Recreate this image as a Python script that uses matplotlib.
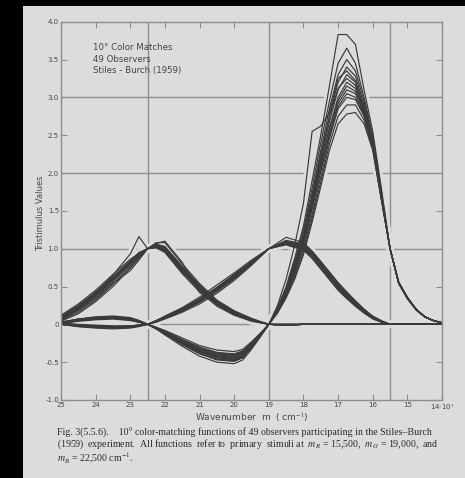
import matplotlib

matplotlib.use("Agg")

import matplotlib.pyplot as plt
from matplotlib.patches import Rectangle

WAVENUMBER_R = [25, 24.5, 24, 23.5, 23, 22.75, 22.5, 22.25, 22, 21.5, 21, 20.5, 20, 19.75, 19.5,
                19.25, 19, 18.75, 18.5, 18.25, 18, 17.75, 17.5, 17.25, 17, 16.75, 16.5, 16.25,
                16, 15.75, 15.5, 15.25, 15, 14.75, 14.5, 14.25, 14]
WAVENUMBER_G = [25, 24.5, 24, 23.5, 23, 22.75, 22.5, 22.25, 22, 21.5, 21, 20.5, 20, 19.5, 19,
                18.5, 18, 17.75, 17.5, 17.25, 17, 16.75, 16.5, 16.25, 16, 15.75, 15.5, 15, 14.5, 14]
# blue function is flat zero beyond 18, so it is sampled on a shorter grid
WAVENUMBER_B = [25, 24.5, 24, 23.5, 23, 22.75, 22.5, 22.25, 22, 21.5, 21, 20.5, 20, 19.5, 19,
                18.5, 18, 14]

# r-bar of a sample of the observers (on WAVENUMBER_R)
R_OBS = [
    [0.02, 0.05, 0.07, 0.08, 0.06, 0.03, 0, -0.06, -0.13, -0.27, -0.39, -0.47, -0.49, -0.44, -0.31, -0.16, 0,
     0.22, 0.50, 0.88, 1.30, 1.90, 2.50, 3.15, 3.83, 3.83, 3.70, 3.10, 2.55, 1.80, 1.00, 0.56, 0.36, 0.20, 0.10, 0.05, 0.02],
    [0.03, 0.06, 0.09, 0.10, 0.08, 0.04, 0, -0.05, -0.12, -0.25, -0.36, -0.44, -0.46, -0.42, -0.29, -0.15, 0,
     0.21, 0.48, 0.84, 1.25, 1.80, 2.40, 2.95, 3.45, 3.65, 3.45, 3.00, 2.50, 1.75, 1.00, 0.56, 0.36, 0.20, 0.10, 0.05, 0.02],
    [0.02, 0.06, 0.08, 0.09, 0.07, 0.04, 0, -0.06, -0.12, -0.26, -0.38, -0.46, -0.48, -0.43, -0.30, -0.15, 0,
     0.20, 0.46, 0.80, 1.20, 1.72, 2.30, 2.85, 3.30, 3.50, 3.35, 2.95, 2.45, 1.72, 1.00, 0.55, 0.35, 0.20, 0.10, 0.05, 0.02],
    [0.01, 0.05, 0.07, 0.08, 0.06, 0.03, 0, -0.05, -0.11, -0.23, -0.34, -0.41, -0.43, -0.39, -0.27, -0.14, 0,
     0.19, 0.44, 0.77, 1.15, 1.65, 2.20, 2.75, 3.20, 3.40, 3.28, 2.90, 2.42, 1.70, 1.00, 0.55, 0.35, 0.20, 0.10, 0.05, 0.02],
    [0.02, 0.07, 0.10, 0.11, 0.09, 0.05, 0, -0.04, -0.09, -0.20, -0.30, -0.37, -0.39, -0.35, -0.25, -0.13, 0,
     0.18, 0.42, 0.75, 1.12, 1.62, 2.15, 2.68, 3.10, 3.30, 3.20, 2.85, 2.40, 1.70, 1.00, 0.55, 0.35, 0.20, 0.10, 0.05, 0.02],
    [0.03, 0.07, 0.09, 0.10, 0.08, 0.05, 0, -0.05, -0.11, -0.24, -0.36, -0.44, -0.47, -0.43, -0.31, -0.16, 0,
     0.20, 0.46, 0.80, 1.18, 1.70, 2.25, 2.75, 3.12, 3.25, 3.16, 2.84, 2.39, 1.69, 1.00, 0.55, 0.35, 0.20, 0.10, 0.05, 0.02],
    [0.02, 0.06, 0.08, 0.09, 0.07, 0.04, 0, -0.05, -0.10, -0.22, -0.33, -0.40, -0.42, -0.38, -0.26, -0.13, 0,
     0.19, 0.43, 0.74, 1.10, 1.58, 2.10, 2.60, 3.00, 3.20, 3.12, 2.82, 2.38, 1.68, 1.00, 0.55, 0.35, 0.20, 0.10, 0.05, 0.02],
    [0.01, 0.04, 0.06, 0.07, 0.05, 0.03, 0, -0.06, -0.14, -0.29, -0.42, -0.50, -0.52, -0.47, -0.33, -0.17, 0,
     0.18, 0.40, 0.70, 1.05, 1.52, 2.02, 2.52, 2.92, 3.10, 3.05, 2.78, 2.36, 1.67, 1.00, 0.54, 0.35, 0.20, 0.10, 0.05, 0.02],
    [0.02, 0.06, 0.09, 0.10, 0.08, 0.04, 0, -0.04, -0.10, -0.21, -0.32, -0.39, -0.41, -0.37, -0.26, -0.13, 0,
     0.17, 0.40, 0.70, 1.06, 1.55, 2.05, 2.50, 2.88, 3.05, 3.00, 2.76, 2.35, 1.66, 1.00, 0.54, 0.35, 0.20, 0.10, 0.05, 0.02],
    [0.03, 0.07, 0.09, 0.10, 0.08, 0.05, 0, -0.04, -0.08, -0.18, -0.28, -0.34, -0.36, -0.33, -0.23, -0.12, 0,
     0.16, 0.38, 0.66, 1.00, 1.45, 1.95, 2.45, 2.85, 3.00, 2.97, 2.75, 2.35, 1.66, 1.00, 0.54, 0.34, 0.19, 0.10, 0.05, 0.02],
    [0.02, 0.05, 0.07, 0.08, 0.06, 0.03, 0, -0.05, -0.11, -0.24, -0.36, -0.43, -0.45, -0.41, -0.28, -0.14, 0,
     0.15, 0.36, 0.63, 0.95, 1.40, 1.88, 2.38, 2.75, 2.90, 2.90, 2.70, 2.32, 1.65, 1.00, 0.54, 0.34, 0.19, 0.10, 0.05, 0.02],
    [0.02, 0.06, 0.08, 0.09, 0.07, 0.04, 0, -0.05, -0.10, -0.21, -0.31, -0.38, -0.40, -0.36, -0.25, -0.13, 0,
     0.15, 0.35, 0.60, 0.92, 1.35, 1.82, 2.30, 2.65, 2.78, 2.80, 2.65, 2.30, 1.64, 1.00, 0.54, 0.34, 0.19, 0.10, 0.05, 0.02],
    [0.02, 0.06, 0.08, 0.09, 0.07, 0.04, 0, -0.05, -0.11, -0.23, -0.35, -0.42, -0.44, -0.40, -0.27, -0.14, 0,
     0.25, 0.60, 1.05, 1.60, 2.55, 2.62, 2.80, 3.25, 3.35, 3.22, 2.86, 2.40, 1.70, 1.00, 0.55, 0.35, 0.20, 0.10, 0.05, 0.02],
    [0.01, 0.05, 0.07, 0.08, 0.06, 0.03, 0, -0.05, -0.12, -0.26, -0.38, -0.46, -0.48, -0.44, -0.30, -0.15, 0,
     0.19, 0.44, 0.76, 1.13, 1.62, 2.12, 2.58, 2.96, 3.15, 3.08, 2.80, 2.37, 1.68, 1.00, 0.55, 0.35, 0.20, 0.10, 0.05, 0.02],
]

# g-bar (on WAVENUMBER_G)
G_OBS = [
    [0.01, -0.01, -0.02, -0.03, -0.02, -0.01, 0, 0.05, 0.10, 0.21, 0.34, 0.49, 0.66, 0.83, 1.00,
     1.10, 1.05, 0.95, 0.82, 0.68, 0.54, 0.41, 0.30, 0.19, 0.10, 0.04, 0.00, 0.00, 0.00, 0.00],
    [0.00, -0.03, -0.04, -0.05, -0.04, -0.02, 0, 0.03, 0.08, 0.17, 0.29, 0.43, 0.60, 0.79, 1.00,
     1.07, 1.00, 0.90, 0.76, 0.62, 0.48, 0.36, 0.25, 0.16, 0.08, 0.03, 0.00, 0.00, 0.00, 0.00],
    [0.02, 0.00, -0.01, -0.02, -0.02, -0.01, 0, 0.04, 0.09, 0.20, 0.32, 0.47, 0.64, 0.82, 1.00,
     1.09, 1.04, 0.94, 0.80, 0.66, 0.52, 0.40, 0.28, 0.18, 0.09, 0.04, 0.00, 0.00, 0.00, 0.00],
    [0.00, -0.02, -0.04, -0.05, -0.04, -0.02, 0, 0.04, 0.08, 0.18, 0.30, 0.45, 0.62, 0.80, 1.00,
     1.06, 0.99, 0.88, 0.74, 0.60, 0.46, 0.35, 0.24, 0.15, 0.08, 0.03, 0.00, 0.00, 0.00, 0.00],
    [0.01, -0.02, -0.03, -0.04, -0.03, -0.02, 0, 0.05, 0.11, 0.22, 0.36, 0.52, 0.68, 0.85, 1.00,
     1.15, 1.08, 0.97, 0.83, 0.69, 0.55, 0.42, 0.31, 0.20, 0.11, 0.05, 0.00, 0.00, 0.00, 0.00],
    [0.00, -0.02, -0.03, -0.04, -0.03, -0.02, 0, 0.04, 0.09, 0.19, 0.31, 0.46, 0.63, 0.81, 1.00,
     1.08, 1.02, 0.92, 0.78, 0.64, 0.50, 0.38, 0.27, 0.17, 0.09, 0.04, 0.00, 0.00, 0.00, 0.00],
    [0.01, -0.01, -0.02, -0.03, -0.03, -0.01, 0, 0.03, 0.07, 0.16, 0.27, 0.41, 0.58, 0.78, 1.00,
     1.05, 0.98, 0.87, 0.73, 0.59, 0.45, 0.34, 0.24, 0.15, 0.07, 0.03, 0.00, 0.00, 0.00, 0.00],
    [0.00, -0.03, -0.05, -0.06, -0.05, -0.03, 0, 0.05, 0.10, 0.21, 0.33, 0.48, 0.65, 0.82, 1.00,
     1.11, 1.06, 0.96, 0.83, 0.69, 0.55, 0.43, 0.31, 0.20, 0.10, 0.04, 0.00, 0.00, 0.00, 0.00],
    [0.01, -0.02, -0.03, -0.04, -0.04, -0.02, 0, 0.04, 0.09, 0.19, 0.30, 0.45, 0.61, 0.80, 1.00,
     1.07, 1.01, 0.91, 0.77, 0.63, 0.49, 0.37, 0.26, 0.16, 0.08, 0.03, 0.00, 0.00, 0.00, 0.00],
    [0.00, -0.01, -0.02, -0.03, -0.02, -0.01, 0, 0.04, 0.10, 0.20, 0.33, 0.48, 0.65, 0.83, 1.00,
     1.09, 1.03, 0.93, 0.79, 0.65, 0.51, 0.39, 0.28, 0.18, 0.09, 0.04, 0.00, 0.00, 0.00, 0.00],
]

# b-bar (on WAVENUMBER_B)
B_OBS = [
    [0.07, 0.20, 0.37, 0.58, 0.80, 0.91, 1.00, 1.04, 1.00, 0.73, 0.49, 0.28, 0.15, 0.06, 0.00, -0.01, 0.00, 0.00],
    [0.10, 0.24, 0.42, 0.63, 0.84, 0.93, 1.00, 1.02, 0.96, 0.69, 0.45, 0.26, 0.13, 0.05, 0.00, -0.01, 0.00, 0.00],
    [0.05, 0.16, 0.32, 0.53, 0.76, 0.89, 1.00, 1.06, 1.03, 0.77, 0.52, 0.31, 0.17, 0.07, 0.00, -0.01, 0.00, 0.00],
    [0.12, 0.27, 0.45, 0.66, 0.86, 0.94, 1.00, 1.03, 0.99, 0.75, 0.51, 0.30, 0.16, 0.06, 0.00, 0.00, 0.00, 0.00],
    [0.04, 0.14, 0.30, 0.50, 0.74, 0.87, 1.00, 1.05, 1.02, 0.71, 0.47, 0.27, 0.14, 0.05, 0.00, -0.01, 0.00, 0.00],
    [0.08, 0.22, 0.39, 0.60, 0.82, 0.92, 1.00, 1.01, 0.95, 0.67, 0.43, 0.24, 0.12, 0.04, 0.00, 0.00, 0.00, 0.00],
    [0.09, 0.23, 0.41, 0.65, 0.93, 1.16, 1.00, 1.08, 1.08, 0.80, 0.54, 0.32, 0.18, 0.08, 0.00, -0.01, 0.00, 0.00],
    [0.06, 0.18, 0.34, 0.54, 0.71, 0.85, 1.00, 1.07, 1.10, 0.82, 0.42, 0.29, 0.15, 0.06, 0.00, -0.01, 0.00, 0.00],
    [0.11, 0.25, 0.43, 0.62, 0.83, 0.95, 1.00, 1.03, 0.97, 0.72, 0.48, 0.27, 0.14, 0.06, 0.00, 0.00, 0.00, 0.00],
    [0.06, 0.19, 0.35, 0.56, 0.78, 0.90, 1.00, 1.04, 1.01, 0.74, 0.50, 0.29, 0.15, 0.06, 0.00, -0.01, 0.00, 0.00],
    [0.09, 0.21, 0.38, 0.59, 0.81, 0.92, 1.00, 1.05, 1.01, 0.76, 0.50, 0.29, 0.16, 0.06, 0.00, -0.01, 0.00, 0.00],
    [0.08, 0.21, 0.40, 0.61, 0.82, 0.93, 1.00, 1.02, 0.98, 0.70, 0.46, 0.26, 0.13, 0.05, 0.00, 0.00, 0.00, 0.00],
]

X_TICKS = [25, 24, 23, 22, 21, 20, 19, 18, 17, 16, 15, 14]
X_TICK_LABELS = ["25", "24", "23", "22", "21", "20", "19", "18", "17", "16", "15", "14·10$^3$"]
Y_TICKS = [-1.0, -0.5, 0, 0.5, 1.0, 1.5, 2.0, 2.5, 3.0, 3.5, 4.0]
Y_TICK_LABELS = ["-1.0", "-0.5", "0", "0.5", "1.0", "1.5", "2.0", "2.5", "3.0", "3.5", "4.0"]
PRIMARIES = [22.5, 19, 15.5]
H_GRID = [0, 1, 2, 3]

CAPTION = (
    "Fig. 3(5.5.6).    10° color-matching functions of 49 observers participating in the Stiles–Burch\n"
    "(1959)  experiment.  All functions  refer to  primary  stimuli at  $m_R$ = 15,500,  $m_G$ = 19,000,  and\n"
    "$m_B$ = 22,500 cm$^{-1}$."
)

PAGE = "#dcdcdc"
INK = "#3a3a3a"
GRID = "#8e8e8e"
TEXT = "#444444"

W, H = 465, 478
plt.rcParams["font.family"] = ["DejaVu Sans"]
plt.rcParams["mathtext.fontset"] = "stix"

fig = plt.figure(figsize=(W / 100, H / 100), dpi=100, facecolor="black")
fig.add_artist(Rectangle((23 / W, 0), 1, 1 - 6 / H, transform=fig.transFigure,
                         facecolor=PAGE, edgecolor="none", zorder=0))

ax = fig.add_axes([61 / W, 1 - 400 / H, (442 - 61) / W, (400 - 21.7) / H])
ax.set_facecolor(PAGE)
ax.set_xlim(25, 14)
ax.set_ylim(-1, 4)

for v in PRIMARIES:
    ax.axvline(v, color=GRID, lw=1.0, zorder=1)
for v in H_GRID:
    ax.axhline(v, color=GRID, lw=1.0, zorder=1)

curves = ([(WAVENUMBER_R, obs) for obs in R_OBS] + [(WAVENUMBER_G, obs) for obs in G_OBS]
          + [(WAVENUMBER_B, obs) for obs in B_OBS])
# paper-coloured halo first so grid lines break around the bundles, as in the print
for x, y in curves:
    ax.plot(x, y, color=PAGE, lw=5, solid_capstyle="round", zorder=1.5)
for x, y in curves:
    ax.plot(x, y, color=INK, lw=0.85, zorder=2)

for side in ax.spines.values():
    side.set_color(GRID)
    side.set_linewidth(1.0)

ax.set_xticks(X_TICKS)
ax.set_xticklabels(X_TICK_LABELS)
ax.set_yticks(Y_TICKS)
ax.set_yticklabels(Y_TICK_LABELS)
ax.tick_params(direction="in", length=4, width=0.8, color=GRID, labelcolor=TEXT,
               labelsize=5, pad=1.5, top=True, right=True)

ax.set_xlabel("Wavenumber  m  ( cm$^{-1}$)", fontsize=6.5, color=TEXT, labelpad=0.5)
fig.text(40.7 / W, 1 - 213 / H, "Tristimulus Values", rotation=90, ha="center", va="center",
         fontsize=6, color=TEXT)

ax.text(0.085, 0.943, "10° Color Matches\n49 Observers\nStiles - Burch (1959)",
        transform=ax.transAxes, ha="left", va="top", fontsize=6.2, color=TEXT, linespacing=1.35)

fig.text(57 / W, 1 - 428 / H, CAPTION, fontsize=7.1, color="#2a2a2a",
         family=["Liberation Serif"], ha="left", va="top", linespacing=0.95)

fig.savefig("out.png", dpi=100, facecolor="black")
